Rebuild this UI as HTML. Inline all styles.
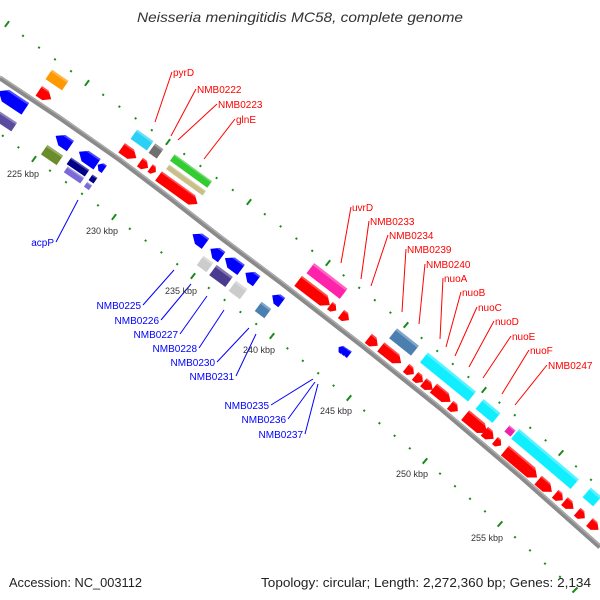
<!DOCTYPE html>
<html><head><meta charset="utf-8"><style>
body{margin:0;background:#fff;}
svg{display:block;}
text{font-family:"Liberation Sans",sans-serif;}
</style></head><body>
<svg id="s" width="600" height="600" xmlns="http://www.w3.org/2000/svg">
<text x="137" y="22" textLength="326" lengthAdjust="spacingAndGlyphs" font-size="14" font-style="italic" fill="#333">Neisseria meningitidis MC58, complete genome</text>
<g id="ticks"></g>
<polyline points="0,78 60,118 120,160 170,198 220,237 280,282 360,344 440,408 520,476 600,547" fill="none" stroke="#8a8a8a" stroke-width="5"/>
<polyline points="0,76 60,116 120,158 170,196 220,235 280,280 360,342 440,406 520,474 600,545" fill="none" stroke="#b0b0b0" stroke-width="1.2"/>
<g id="feat"></g>
<g id="lab" font-size="10"></g>
<g font-size="9" fill="#333">
<text x="7" y="177">225 kbp</text><text x="86" y="234">230 kbp</text><text x="165" y="294">235 kbp</text>
<text x="243" y="353">240 kbp</text><text x="320" y="414">245 kbp</text><text x="396" y="477">250 kbp</text><text x="471" y="541">255 kbp</text>
</g>
<text x="9" y="587" font-size="13" fill="#222" textLength="133" lengthAdjust="spacingAndGlyphs">Accession: NC_003112</text>
<text x="261" y="587" font-size="13" fill="#222" textLength="330" lengthAdjust="spacingAndGlyphs">Topology: circular; Length: 2,272,360 bp; Genes: 2,134</text>
</svg>
<script>
var NS="http://www.w3.org/2000/svg";
function el(p,t,a){var e=document.createElementNS(NS,t);for(var k in a)e.setAttribute(k,a[k]);p.appendChild(e);return e;}
var T=document.getElementById("ticks");
function track(pts){
  for(var i=0;i<pts.length-1;i++){
    var a=pts[i],b=pts[i+1];
    for(var j=0;j<5;j++){
      var t=j/5,x=a[0]+(b[0]-a[0])*t,y=a[1]+(b[1]-a[1])*t;
      var dx=b[0]-a[0],dy=b[1]-a[1],l=Math.hypot(dx,dy);var px=dy/l,py=-dx/l;
      var h=(j==0)?3.5:1;
      el(T,"line",{x1:x-px*h,y1:y-py*h,x2:x+px*h,y2:y+py*h,stroke:"#1a8a1a","stroke-width":2});
    }
  }
  var L=pts[pts.length-1];el(T,"line",{x1:L[0]+2.5,y1:L[1]-2.5,x2:L[0]-2.5,y2:L[1]+2.5,stroke:"#1a8a1a","stroke-width":2});
}
track([[-73,25],[7,24],[87,83],[168,142],[249,202],[328,263],[406,325],[484,390],[561,453],[636,520]]);
track([[-44,101],[34,159],[114,217],[193,276],[272,336],[349,398],[425,461],[500,524],[575,590]]);
var F=document.getElementById("feat");
function ang(x){return 33.5+7.5*x/600;}
function f(cx,cy,L,Th,col,dir){
  Th=Th*1.15;
  var g=el(F,"g",{transform:"translate("+cx+","+cy+") rotate("+ang(cx)+")"});
  var h=dir?Math.min(L*0.5,Th*0.6):0,a=-L/2,b=L/2,t=Th/2,p;
  if(dir==1)p=[[a,-t],[b-h,-t],[b,0],[b-h,t],[a,t]];
  else if(dir==-1)p=[[b,-t],[a+h,-t],[a,0],[a+h,t],[b,t]];
  else p=[[a,-t],[b,-t],[b,t],[a,t]];
  el(g,"polygon",{points:p.map(function(q){return q.join(",")}).join(" "),fill:col});
  var d=dir==1?[[a,-t],[b-h,-t],[b-h*0.7,-t*0.7],[a,-t*0.7]]:dir==-1?[[b,-t],[a+h,-t],[a+h*0.7,-t*0.7],[b,-t*0.7]]:[[a,-t],[b,-t],[b,-t*0.6],[a,-t*0.6]];
  el(g,"polygon",{points:d.map(function(q){return q.join(",")}).join(" "),fill:"#fff",opacity:0.3});
}
var R="#f00",B="#00f",C="#1ef",SB="#4a7fb0";
f(57,80,20,10,"#f90",0);f(45,95,15,10,R,1);
f(142,140,20,10,"#2bd0f5",0);f(156,151,10,10,"#707070",0);
f(129,153,18,10,R,1);f(144,165,10,9,R,1);f(153,170,7,8,R,1);
f(191,171,46,7,"#3c3",0);f(186,180,45,5,"#c8c08a",0);f(178,190,48,10,R,1);
f(327,281,42,11,"#f2a",0);f(314,293,40,11,R,1);f(333,308,8,8,R,1);f(345,317,10,9,R,1);
f(404,342,28,11,SB,0);f(373,342,12,10,R,1);f(391,355,26,10,R,1);
f(448,377,62,11,C,0);f(488,411,22,11,C,0);
f(410,371,10,9,R,1);f(419,379,10,9,R,1);f(428,386,12,9,R,1);f(442,395,22,10,R,1);f(454,408,10,9,R,1);
f(476,424,28,11,R,1);f(489,435,12,10,R,1);f(498,443,8,8,R,1);
f(510,431,8,7,"#e2a",0);
f(545,459,78,11,C,0);f(592,497,14,11,C,0);
f(521,464,42,11,R,1);f(545,486,18,10,R,1);f(559,497,10,9,R,1);f(569,505,12,9,R,1);f(581,515,10,9,R,1);f(594,526,12,9,R,1);
f(12,100,32,12,B,-1);f(5,121,22,9,"#5a4aa0",0);
f(63,141,18,11,B,-1);f(52,155,19,10,"#6a8c2a",0);f(88,158,22,11,B,-1);
f(78,167,22,7,"#008",0);f(74,175,20,6,"#7a6ad8",0);f(101,167,8,8,B,-1);f(93,179,6,6,"#008",0);f(88,186,6,5,"#7a6ad8",0);
f(199,239,16,11,B,-1);f(216,253,14,11,B,-1);f(233,264,20,11,B,-1);f(251,277,14,11,B,-1);
f(205,264,12,10,"#ccc",0);f(221,276,20,11,"#4a3a90",0);f(238,290,14,11,"#ccc",0);
f(277,299,12,10,B,-1);f(263,310,12,10,SB,0);
f(341,349,6,7,B,-1);f(344,351,6,7,B,-1);f(347,353,6,7,B,-1);
var Lb=document.getElementById("lab");
function lab(txt,x,y,x2,y2,col,end){
  el(Lb,"line",{x1:end?x+2:x-1,y1:y-4,x2:x2,y2:y2,stroke:col,"stroke-width":1});
  var t=el(Lb,"text",{x:x,y:y,fill:col,"text-anchor":end?"end":"start"});t.textContent=txt;
}
var r=[["pyrD",173,76,155,122],["NMB0222",197,93,171,136],["NMB0223",218,108,178,140],["glnE",236,123,204,159],
["uvrD",352,211,341,263],["NMB0233",370,225,361,279],["NMB0234",389,239,371,286],["NMB0239",407,253,402,312],
["NMB0240",426,268,419,324],["nuoA",444,282,440,339],["nuoB",462,296,446,347],["nuoC",478,311,455,356],
["nuoD",495,325,469,367],["nuoE",512,340,483,378],["nuoF",530,354,502,394],["NMB0247",548,369,515,405]];
r.forEach(function(a){lab(a[0],a[1],a[2],a[3],a[4],"#f00",0);});
var b=[["acpP",54,246,78,200],["NMB0225",141,309,174,270],["NMB0226",159,324,191,284],["NMB0227",178,338,207,296],
["NMB0228",197,352,224,310],["NMB0230",215,366,249,328],["NMB0231",234,380,256,334],["NMB0235",269,409,313,379],
["NMB0236",286,423,315,382],["NMB0237",303,438,318,384]];
b.forEach(function(a){lab(a[0],a[1],a[2],a[3],a[4],"#00f",1);});
</script>
</body></html>
